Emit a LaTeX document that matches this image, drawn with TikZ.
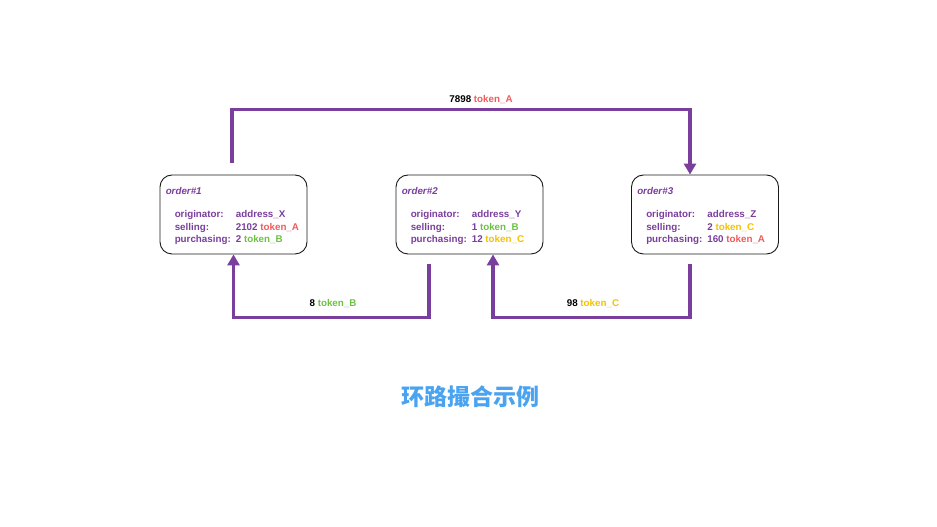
\documentclass[tikz,border=0pt]{standalone}
\usepackage{fontspec}
\setmainfont{Liberation Sans}
\newfontfamily\cjk{Noto Sans CJK SC}
\usepackage{tikz}
\usetikzlibrary{arrows.meta,positioning,calc}
\definecolor{ordpurple}{HTML}{7A3E9D}
\definecolor{tokA}{HTML}{F05A5A}
\definecolor{tokB}{HTML}{6DC143}
\definecolor{tokC}{HTML}{F2C200}
\definecolor{titleblue}{HTML}{4AA3F0}

\begin{document}
\begin{tikzpicture}[
    x=1pt, y=1pt,
    font=\fontsize{9.8}{12.5}\selectfont\bfseries,
    order/.style={draw=black!90, rounded corners=12pt, minimum width=147pt, minimum height=79pt, line width=0.9pt},
    otitle/.style={anchor=west, text=ordpurple, font=\fontsize{9.8}{12.5}\selectfont\bfseries\itshape, inner sep=0pt},
    otable/.style={anchor=north west, text=ordpurple, inner sep=0pt},
    flow/.style={draw=ordpurple, line width=3.6pt, -{Triangle[length=11pt,width=12pt]}},
    amount/.style={inner sep=0pt}
]
\useasboundingbox (0,0) rectangle (937,527);

% order boxes
\node[order] (o1) at (233.5,312.5) {};
\node[order] (o2) at (469.5,312.5) {};
\node[order] (o3) at (705,312.5) {};

% order #1
\node[otitle] (n1) at ([xshift=6pt,yshift=-16pt]o1.north west) {order\#1};
\node[otable] (d1) at ([xshift=15pt,yshift=-34.5pt]o1.north west) {%
  \begin{tabular}{@{}l@{\hspace{5pt}}l@{}}
  originator: & address\_X\\
  selling: & 2102 \textcolor{tokA}{token\_A}\\
  purchasing: & 2 \textcolor{tokB}{token\_B}
  \end{tabular}};

% order #2
\node[otitle] (n2) at ([xshift=6pt,yshift=-16pt]o2.north west) {order\#2};
\node[otable] (d2) at ([xshift=15pt,yshift=-34.5pt]o2.north west) {%
  \begin{tabular}{@{}l@{\hspace{5pt}}l@{}}
  originator: & address\_Y\\
  selling: & 1 \textcolor{tokB}{token\_B}\\
  purchasing: & 12 \textcolor{tokC}{token\_C}
  \end{tabular}};

% order #3
\node[otitle] (n3) at ([xshift=6pt,yshift=-16pt]o3.north west) {order\#3};
\node[otable] (d3) at ([xshift=15pt,yshift=-34.5pt]o3.north west) {%
  \begin{tabular}{@{}l@{\hspace{5pt}}l@{}}
  originator: & address\_Z\\
  selling: & 2 \textcolor{tokC}{token\_C}\\
  purchasing: & 160 \textcolor{tokA}{token\_A}
  \end{tabular}};

% token flows
\draw[flow] ([xshift=-1.5pt,yshift=12pt]o1.north) -- ([xshift=-1.5pt,yshift=65pt]o1.north) -| ([xshift=-15pt]o3.north);
\draw[flow] ([xshift=-40.5pt,yshift=-10pt]o2.south) -- ([xshift=-40.5pt,yshift=-63pt]o2.south) -| (o1.south);
\draw[flow] ([xshift=-15pt,yshift=-10pt]o3.south) -- ([xshift=-15pt,yshift=-63pt]o3.south) -| ([xshift=23.5pt]o2.south);

\node[amount] (a1) at (481,427) {7898 \textcolor{tokA}{token\_A}};
\node[amount] (a2) at (333,223) {8 \textcolor{tokB}{token\_B}};
\node[amount] (a3) at (593,223) {98 \textcolor{tokC}{token\_C}};

\node[text=titleblue, font=\cjk\bfseries\fontsize{23}{27}\selectfont] (title) at (470,130) {环路撮合示例};
\end{tikzpicture}
\end{document}
